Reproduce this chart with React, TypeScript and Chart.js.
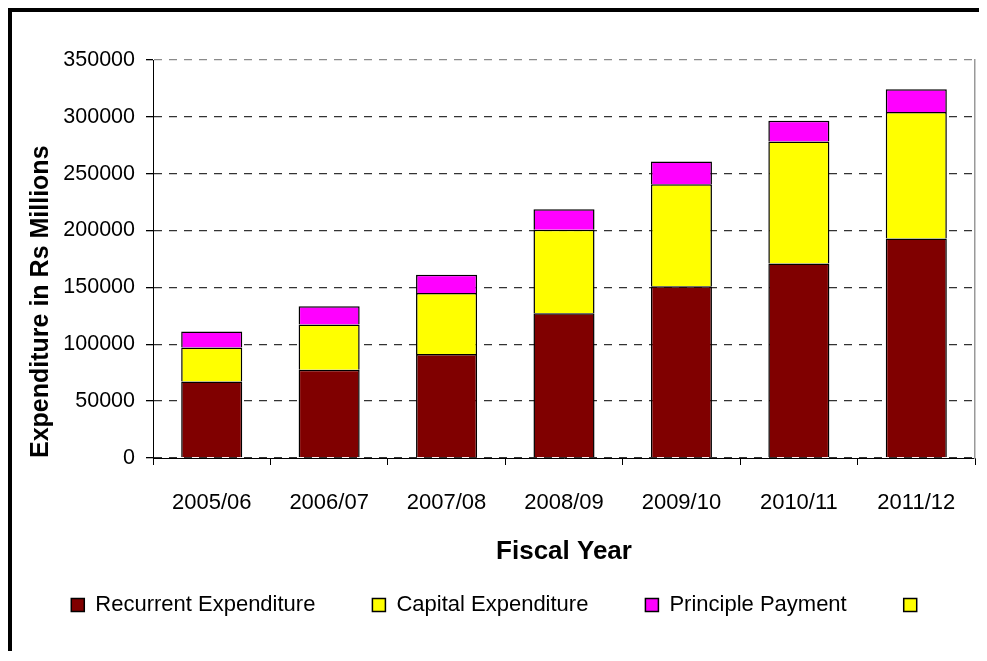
import React, { useEffect, useRef } from 'react';
import { Chart, registerables } from 'chart.js';

Chart.register(...registerables);

const categories = ['2005/06', '2006/07', '2007/08', '2008/09', '2009/10', '2010/11', '2011/12'];
const recurrentExpenditure = [67300, 77600, 91400, 127300, 151100, 171100, 193100];
const capitalExpenditure = [29900, 39700, 53800, 73500, 89600, 107200, 111100];
const principlePayment = [14100, 16100, 15900, 17900, 20000, 18300, 20000];
const seriesLabels = ['Recurrent Expenditure', 'Capital Expenditure', 'Principle Payment'];
const seriesColors = ['#800000', '#FFFF00', '#FF00FF'];
const extraLegendColor = '#FFFF00';
const yMin = 0;
const yMax = 350000;
const yStep = 50000;
const xTitle = 'Fiscal Year';
const yTitle = 'Expenditure in Rs Millions';

const FONT = "Arial, 'Liberation Sans', sans-serif";

export default function App() {
  const ref = useRef<HTMLCanvasElement>(null);

  useEffect(() => {
    const canvas = ref.current;
    if (!canvas) return;
    const values = [recurrentExpenditure, capitalExpenditure, principlePayment];
    const chart = new Chart(canvas, {
      type: 'bar',
      data: {
        labels: categories,
        datasets: values.map((d, i) => ({
          label: seriesLabels[i],
          data: d,
          backgroundColor: seriesColors[i],
          borderColor: '#000000',
          borderWidth: 1.5,
          yAxisID: 'y',
          categoryPercentage: 1,
          barPercentage: 0.52,
        })),
      },
      options: {
        responsive: false,
        animation: false,
        devicePixelRatio: 1,
        layout: { padding: { left: 0, right: 0, top: 48, bottom: 25 } },
        plugins: {
          tooltip: { enabled: false },
          legend: {
            position: 'bottom',
            labels: {
              color: '#000',
              font: { family: FONT, size: 22 },
              boxWidth: 13,
              boxHeight: 13,
              padding: 57,
              generateLabels: (ch: any) => {
                const items = Chart.defaults.plugins.legend.labels.generateLabels(ch);
                items.push({
                  text: '',
                  fillStyle: extraLegendColor,
                  strokeStyle: '#000000',
                  lineWidth: 1.5,
                  hidden: false,
                  datasetIndex: -1,
                } as any);
                return items;
              },
            },
          },
        },
        scales: {
          x: {
            stacked: true,
            afterFit: (s: any) => { s.height = 79; },
            grid: {
              drawOnChartArea: false,
              tickLength: 7,
              color: '#000',
              tickColor: '#000',
            },
            border: { color: '#000', width: 1 },
            ticks: {
              color: '#000',
              font: { family: FONT, size: 22 },
              padding: 25,
              maxRotation: 0,
            },
            title: {
              display: true,
              text: xTitle,
              color: '#000',
              font: { family: FONT, size: 26, weight: 'bold' },
              padding: { top: 0, bottom: -30 },
            },
          },
          y: {
            stacked: true,
            min: yMin,
            max: yMax,
            afterFit: (s: any) => { s.width = 141; },
            grid: {
              color: (c: any) => (c.tick && c.tick.value === yMax ? '#8a8a8a' : '#333333'),
              lineWidth: 1.3,
              tickLength: 7,
              tickColor: '#000',
            },
            border: { color: '#000', width: 1, dash: [8, 7] },
            ticks: {
              stepSize: yStep,
              color: '#000',
              font: { family: FONT, size: 21.5 },
              padding: 11,
              callback: (v: any) => String(v),
            },
            title: {
              display: true,
              text: yTitle,
              align: 'start',
              color: '#000',
              font: { family: FONT, size: 25, weight: 'bold', lineHeight: 1 },
              padding: { top: 16.5, bottom: 0 },
            },
          },
          yRight: {
            position: 'right',
            min: yMin,
            max: yMax,
            afterFit: (s: any) => { s.width = 12; },
            grid: { display: false, drawTicks: false },
            ticks: { display: false },
            border: { display: true, color: '#999999', width: 1.5 },
          },
        },
      } as any,
    });
    return () => chart.destroy();
  }, []);

  return (
    <div
      style={{
        width: 975,
        height: 639,
        borderLeft: '4px solid #000',
        borderTop: '4px solid #000',
      }}
    >
      <canvas ref={ref} width={975} height={639} style={{ display: 'block' }} />
    </div>
  );
}
